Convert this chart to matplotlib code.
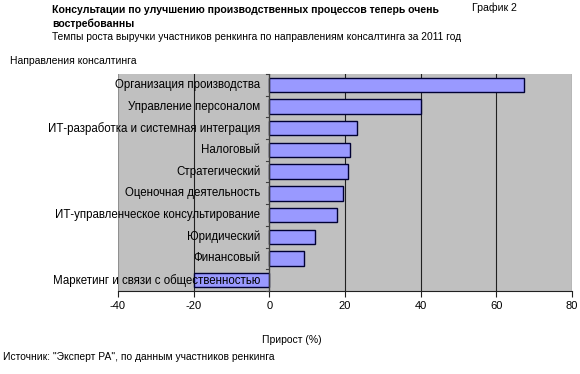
import matplotlib
matplotlib.use("Agg")
import matplotlib.pyplot as plt

plt.rcParams['font.family'] = ['Liberation Sans', 'DejaVu Sans']

categories = [
    "Организация производства",
    "Управление персоналом",
    "ИТ-разработка и системная интеграция",
    "Налоговый",
    "Стратегический",
    "Оценочная деятельность",
    "ИТ-управленческое консультирование",
    "Юридический",
    "Финансовый",
    "Маркетинг и связи с общественностью",
]
values = [67.2, 40.2, 23.3, 21.2, 20.9, 19.6, 17.9, 12.2, 9.2, -19.9]
xticks = [-40, -20, 0, 20, 40, 60, 80]

title = "Консультации по улучшению производственных процессов теперь очень\nвостребованны"
subtitle = "Темпы роста выручки участников ренкинга по направлениям консалтинга за 2011 год"
chart_no = "График 2"
ylabel = "Направления консалтинга"
xlabel = "Прирост (%)"
source = "Источник: \"Эксперт РА\", по данным участников ренкинга"

fig = plt.figure(figsize=(5.8, 3.74), dpi=100)
ax = fig.add_axes([118/580, 1-291/374, (572-118)/580, (291-74)/374])
ax.set_facecolor('#C0C0C0')

n = len(categories)
ypos = list(range(n))[::-1]
ax.barh(ypos, values, height=0.66, color='#9999FF', edgecolor='#000033', linewidth=1.0, zorder=3)

ax.set_xlim(-40, 80)
ax.set_ylim(-0.5, n-0.5)
ax.set_xticks(xticks)
ax.set_xticklabels([str(t) for t in xticks], fontsize=8)
for t in xticks[1:]:
    ax.axvline(t, color='#202020', linewidth=0.8, zorder=1)
ax.axvline(-40, color='#909090', linewidth=0.8, zorder=1)

for s in ['top', 'right', 'left']:
    ax.spines[s].set_visible(False)
ax.spines['bottom'].set_color('#202020')
ax.spines['bottom'].set_linewidth(0.8)
ax.tick_params(axis='x', length=4, width=0.8, color='#202020', pad=3)
ax.set_yticks([])

# y-axis at 0 with category separator ticks
ax.axvline(0, color='#404040', linewidth=0.9, zorder=4)
for k in range(n+1):
    yb = k - 0.5
    ax.plot([-0.8, 0], [yb, yb], color='#404040', linewidth=0.8, zorder=4, clip_on=False)

for y, c in zip(ypos, categories):
    ax.text(-2.4, y, c, ha='right', va='center', fontsize=8.3, zorder=5)

fig.text(52/580, 1-5/374, title, ha='left', va='top', fontsize=7.6, fontweight='bold', linespacing=1.42)
fig.text(52/580, 1-37/374, subtitle, ha='left', va='center', fontsize=7.4)
fig.text(517/580, 1-8/374, chart_no, ha='right', va='center', fontsize=7.6)
fig.text(10/580, 1-61/374, ylabel, ha='left', va='center', fontsize=7.5)
fig.text(292/580, 1-340/374, xlabel, ha='center', va='center', fontsize=7.5)
fig.text(3/580, 1-357/374, source, ha='left', va='center', fontsize=7.4)

fig.savefig("out.png", dpi=100)
